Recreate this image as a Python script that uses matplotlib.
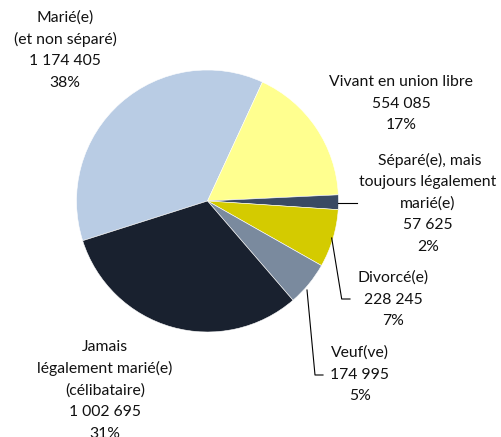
import numpy as np
import matplotlib.pyplot as plt

# Population by marital status
categories = ["Marié(e)\n(et non séparé)", "Vivant en union libre",
              " Séparé(e), mais\ntoujours légalement\nmarié(e)", "Divorcé(e)",
              "Veuf(ve)", "Jamais\nlégalement marié(e)\n(célibataire)"]
counts = [1174405, 554085, 57625, 228245, 174995, 1002695]
count_labels = ["1 174 405", "554 085", "57 625", "228 245", "174 995", "1 002 695"]
pct_labels = ["38%", "17%", "2%", "7%", "5%", "31%"]
colors = ["#b9cce4", "#ffff8f", "#3a4a63", "#d4cb00", "#7a8a9e", "#19212f"]

W, H = 501, 437
cx, cy, R = 207.5, 201, 131  # pie centre / radius in pixels

fig = plt.figure(figsize=(W / 100, H / 100), dpi=100)
ax = fig.add_axes([0, 0, 1, 1])

total = sum(counts)
start = 65.2 + 360 * counts[0] / total
ax.pie(counts, colors=colors, startangle=start, counterclock=False,
       radius=1, center=(0, 0), frame=True,
       wedgeprops=dict(edgecolor="white", linewidth=0.4))
ax.set_xlim(-cx / R, (W - cx) / R)
ax.set_ylim(-(H - cy) / R, cy / R)
ax.set_aspect("auto")
ax.axis("off")


def px(x, y):
    return (x - cx) / R, (cy - y) / R


# label anchors (pixel coords: centre x, top line centre y)
label_pos = [(65, 18), (401, 82), (428, 160), (393, 278), (360, 353), (105, 347)]
for name, cnt, pct, (lx, ly) in zip(categories, count_labels, pct_labels, label_pos):
    lines = name.split("\n") + [cnt, pct]
    for i, line in enumerate(lines):
        x, y = px(lx, ly + i * 21.7)
        ax.text(x, y, line, ha="center", va="center", fontsize=11.3,
                family="Lato", color="#111111")

# leader lines
leaders = [
    [(338, 202.5), (357, 202.5)],
    [(331.7, 238), (341.7, 299), (350, 299)],
    [(307, 290), (315, 375), (323, 375)],
]
for pts in leaders:
    xs, ys = zip(*[px(a, b) for a, b in pts])
    ax.plot(xs, ys, color="black", linewidth=0.8)

fig.savefig("out.png", dpi=100)
